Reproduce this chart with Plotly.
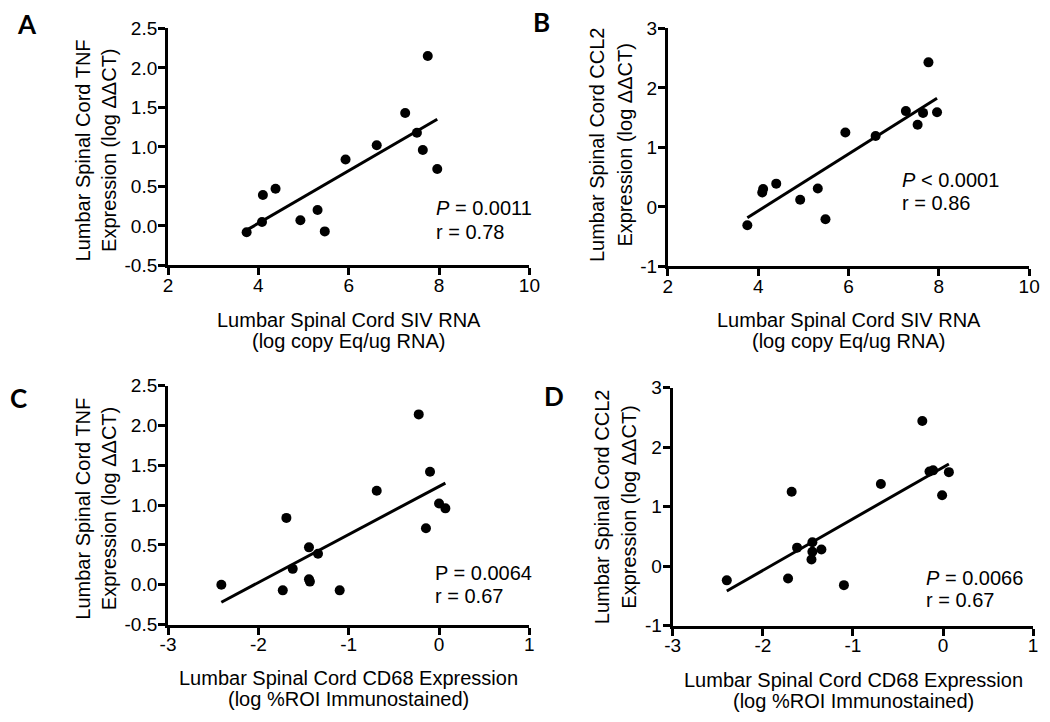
import numpy as np
import plotly.graph_objects as go

# ---------------- data ----------------
A_x = [3.74, 4.08, 4.10, 4.38, 4.93, 5.31, 5.47, 5.93, 6.62, 7.25, 7.51, 7.64, 7.75, 7.96]
A_y = [-0.08, 0.05, 0.39, 0.47, 0.07, 0.20, -0.07, 0.84, 1.02, 1.43, 1.18, 0.96, 2.15, 0.72]

B_x = [3.76, 4.09, 4.11, 4.40, 4.93, 5.32, 5.49, 5.93, 6.60, 7.27, 7.53, 7.65, 7.77, 7.96]
B_y = [-0.31, 0.24, 0.30, 0.39, 0.12, 0.31, -0.21, 1.25, 1.19, 1.61, 1.38, 1.58, 2.43, 1.59]

C_x = [-2.41, -1.69, -1.73, -1.62, -1.44, -1.44, -1.43, -1.34, -1.10, -0.69, -0.225, -0.10, -0.145, 0.0, 0.07]
C_y = [0.0, 0.84, -0.07, 0.20, 0.47, 0.07, 0.04, 0.39, -0.07, 1.18, 2.14, 1.42, 0.71, 1.02, 0.96]

D_x = [-2.40, -1.72, -1.68, -1.62, -1.45, -1.45, -1.46, -1.35, -1.10, -0.69, -0.23, -0.15, -0.11, 0.065, -0.01]
D_y = [-0.24, -0.21, 1.25, 0.31, 0.40, 0.24, 0.11, 0.28, -0.32, 1.38, 2.44, 1.59, 1.61, 1.58, 1.19]

xticks_siv = [2, 4, 6, 8, 10]
xticklabels_siv = ["2", "4", "6", "8", "10"]
xticks_cd68 = [-3, -2, -1, 0, 1]
xticklabels_cd68 = ["-3", "-2", "-1", "0", "1"]
yticks_tnf = [-0.5, 0.0, 0.5, 1.0, 1.5, 2.0, 2.5]
yticklabels_tnf = ["-0.5", "0.0", "0.5", "1.0", "1.5", "2.0", "2.5"]
yticks_ccl2 = [-1, 0, 1, 2, 3]
yticklabels_ccl2 = ["-1", "0", "1", "2", "3"]

panel_letters = ["A", "B", "C", "D"]
stats_p = ["<i>P</i> = 0.0011", "<i>P</i> &lt; 0.0001", "P = 0.0064", "<i>P</i> = 0.0066"]
stats_r = ["r = 0.78", "r = 0.86", "r = 0.67", "r = 0.67"]
ytitle_tnf = ["Lumbar Spinal Cord TNF", "Expression (log \u0394\u0394CT)"]
ytitle_ccl2 = ["Lumbar Spinal Cord CCL2", "Expression (log \u0394\u0394CT)"]
xtitle_siv = ["Lumbar Spinal Cord SIV RNA", "(log copy Eq/ug RNA)"]
xtitle_cd68 = ["Lumbar Spinal Cord CD68 Expression", "(log %ROI Immunostained)"]

# ---------------- layout helpers ----------------
W, H = 1050, 722
FONT = "Liberation Sans, Arial, sans-serif"


def px(x):
    return x / W


def py(y):
    return 1 - y / H


panels = [
    dict(x=A_x, y=A_y, dom=(163, 531, 19, 263), xr=[2, 10], yr=[-0.5, 2.5],
         xt=(xticks_siv, xticklabels_siv), yt=(yticks_tnf, yticklabels_tnf),
         ytitle=ytitle_tnf, xtitle=xtitle_siv, ytx=(76, 103), yty=145, xtx=347, xty=(319, 341),
         letter_pos=(19, 14), stat_pos=(7.88, 0.22, -0.08)),
    dict(x=B_x, y=B_y, dom=(672, 1040, 19, 264), xr=[2, 10], yr=[-1, 3],
         xt=(xticks_siv, xticklabels_siv), yt=(yticks_ccl2, yticklabels_ccl2),
         ytitle=ytitle_ccl2, xtitle=xtitle_siv, ytx=(600, 628), yty=139, xtx=856, xty=(319, 341),
         letter_pos=(543, 12), stat_pos=(7.13, 0.45, 0.07)),
    dict(x=C_x, y=C_y, dom=(163, 531, 387, 633), xr=[-3, 1], yr=[-0.5, 2.5],
         xt=(xticks_cd68, xticklabels_cd68), yt=(yticks_tnf, yticklabels_tnf),
         ytitle=ytitle_tnf, xtitle=xtitle_cd68, ytx=(76, 103), yty=514, xtx=347, xty=(688, 710),
         letter_pos=(11, 400), stat_pos=(-0.07, 0.15, -0.14)),
    dict(x=D_x, y=D_y, dom=(677, 1044, 389, 634), xr=[-3, 1], yr=[-1, 3],
         xt=(xticks_cd68, xticklabels_cd68), yt=(yticks_ccl2, yticklabels_ccl2),
         ytitle=ytitle_ccl2, xtitle=xtitle_cd68, ytx=(605, 633), yty=512, xtx=861, xty=(690, 712),
         letter_pos=(556, 398), stat_pos=(-0.21, -0.20, -0.57)),
]

fig = go.Figure()
annotations = []
layout_axes = {}

for i, p in enumerate(panels):
    n = "" if i == 0 else str(i + 1)
    xa, ya = "x" + n, "y" + n
    x0, x1, y0, y1 = p["dom"]
    common = dict(showline=True, linewidth=3, linecolor="black",
                  ticks="outside", ticklen=7, tickwidth=3, tickcolor="black",
                  showgrid=False, zeroline=False,
                  tickfont=dict(family=FONT, size=19, color="black"))
    layout_axes["xaxis" + n] = dict(domain=[px(x0), px(x1)], range=p["xr"], anchor=ya,
                                    tickvals=p["xt"][0], ticktext=p["xt"][1],
                                    ticklabelstandoff=-6, **common)
    layout_axes["yaxis" + n] = dict(domain=[py(y1), py(y0)], range=p["yr"], anchor=xa,
                                    tickvals=p["yt"][0], ticktext=p["yt"][1],
                                    ticklabelstandoff=-3, **common)
    xs = np.array(p["x"])
    ys = np.array(p["y"])
    slope, intercept = np.polyfit(xs, ys, 1)
    lx = np.array([xs.min(), xs.max()])
    fig.add_trace(go.Scatter(x=lx, y=slope * lx + intercept, mode="lines",
                             line=dict(color="black", width=3), xaxis=xa, yaxis=ya,
                             showlegend=False, hoverinfo="skip"))
    fig.add_trace(go.Scatter(x=xs, y=ys, mode="markers",
                             marker=dict(color="black", size=10), xaxis=xa, yaxis=ya,
                             showlegend=False, cliponaxis=False))
    sx, sy1, sy2 = p["stat_pos"]
    for txt, yy in ((stats_p[i], sy1), (stats_r[i], sy2)):
        annotations.append(dict(x=sx, y=yy, xref=xa, yref=ya, text=txt, showarrow=False,
                                xanchor="left", yanchor="middle",
                                font=dict(family=FONT, size=20, color="black")))
    for txt, xx in zip(p["ytitle"], p["ytx"]):
        annotations.append(dict(x=px(xx), y=py(p["yty"]), xref="paper", yref="paper",
                                text=txt, textangle=-90, showarrow=False,
                                xanchor="center", yanchor="middle",
                                font=dict(family=FONT, size=20, color="black")))
    for txt, yy in zip(p["xtitle"], p["xty"]):
        annotations.append(dict(x=px(p["xtx"]), y=py(yy), xref="paper", yref="paper",
                                text=txt, showarrow=False,
                                xanchor="center", yanchor="middle",
                                font=dict(family=FONT, size=20, color="black")))
    annotations.append(dict(x=px(p["letter_pos"][0]), y=py(p["letter_pos"][1]), xref="paper", yref="paper",
                            text="<b>" + panel_letters[i] + "</b>", showarrow=False,
                            xanchor="center", yanchor="middle",
                            font=dict(family="Lato, Open Sans, sans-serif", size=26, color="black")))

fig.update_layout(
    width=W, height=H,
    margin=dict(l=0, r=0, t=0, b=0),
    paper_bgcolor="white", plot_bgcolor="white",
    annotations=annotations,
    **layout_axes,
)

fig.write_html(
    "out.html",
    config={"displayModeBar": False},
    post_script="document.body.style.margin='0';document.body.style.padding='0';"
                "document.documentElement.style.overflow='hidden';document.body.style.overflow='hidden';",
)
